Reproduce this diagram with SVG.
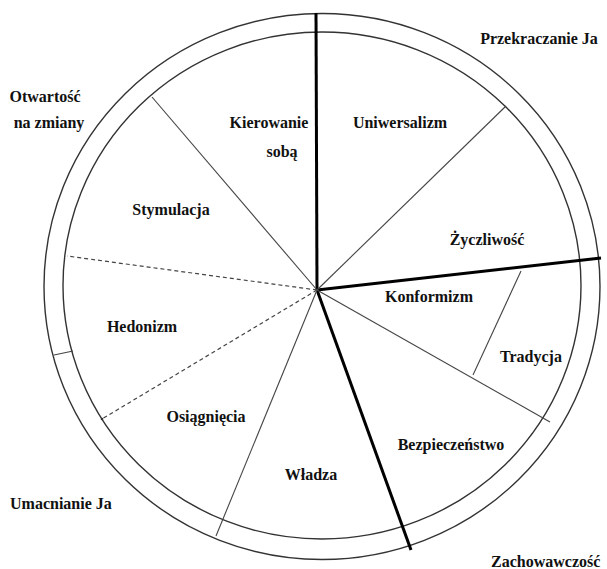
<svg xmlns="http://www.w3.org/2000/svg" width="607" height="569" viewBox="0 0 607 569">
<style>
.ring{fill:none;stroke:#333;stroke-width:1.4}
.thin{stroke:#444;stroke-width:1.1;fill:none}
.thick{stroke:#000;stroke-width:3;fill:none}
.dash{stroke:#444;stroke-width:1.2;stroke-dasharray:4 3;fill:none}
text{font-family:"Liberation Serif","Times New Roman",serif;font-weight:bold;font-size:16px;fill:#111}
.m{text-anchor:middle}
</style>
<rect width="607" height="569" fill="#fff"/>
<g id="rings">
<ellipse class="ring" cx="322" cy="286.5" rx="278" ry="273"/>
<ellipse class="ring" cx="322" cy="285.5" rx="259" ry="253.5"/>
</g>
<g id="connectors">
<line class="thick" x1="317" y1="290" x2="316" y2="13"/>
<line class="thick" x1="317" y1="290" x2="601" y2="258"/>
<line class="thick" x1="317" y1="290" x2="411" y2="550"/>
<line class="thin" x1="317" y1="290" x2="152" y2="97"/>
<line class="thin" x1="317" y1="290" x2="506" y2="106"/>
<line class="thin" x1="317" y1="290" x2="550" y2="422"/>
<line class="thin" x1="317" y1="290" x2="216" y2="536"/>
<line class="thin" x1="521" y1="271" x2="473" y2="375"/>
<line class="thin" x1="54" y1="355" x2="73" y2="351"/>
<line class="dash" x1="317" y1="290" x2="67" y2="256"/>
<line class="dash" x1="317" y1="290" x2="102" y2="419"/>
<circle cx="102" cy="419" r="1.3" fill="#333"/>
</g>
<g id="n-otwartosc"><text class="m" x="45" y="102">Otwartość</text><text class="m" x="49" y="128">na zmiany</text></g>
<g id="n-przekraczanie"><text class="m" x="539" y="44">Przekraczanie Ja</text></g>
<g id="n-kierowanie"><text class="m" x="269" y="128">Kierowanie</text><text class="m" x="282" y="157">sobą</text></g>
<g id="n-uniwersalizm"><text class="m" x="400" y="128">Uniwersalizm</text></g>
<g id="n-stymulacja"><text class="m" x="171" y="215">Stymulacja</text></g>
<g id="n-zyczliwosc"><text class="m" x="487" y="245">Życzliwość</text></g>
<g id="n-konformizm"><text class="m" x="429" y="302">Konformizm</text></g>
<g id="n-hedonizm"><text class="m" x="142" y="332">Hedonizm</text></g>
<g id="n-tradycja"><text class="m" x="531" y="362">Tradycja</text></g>
<g id="n-osiagniecia"><text class="m" x="206" y="422">Osiągnięcia</text></g>
<g id="n-bezpieczenstwo"><text class="m" x="451" y="450">Bezpieczeństwo</text></g>
<g id="n-wladza"><text class="m" x="311" y="480">Władza</text></g>
<g id="n-umacnianie"><text x="10" y="509">Umacnianie Ja</text></g>
<g id="n-zachowawczosc"><text x="491" y="567">Zachowawczość</text></g>
</svg>
